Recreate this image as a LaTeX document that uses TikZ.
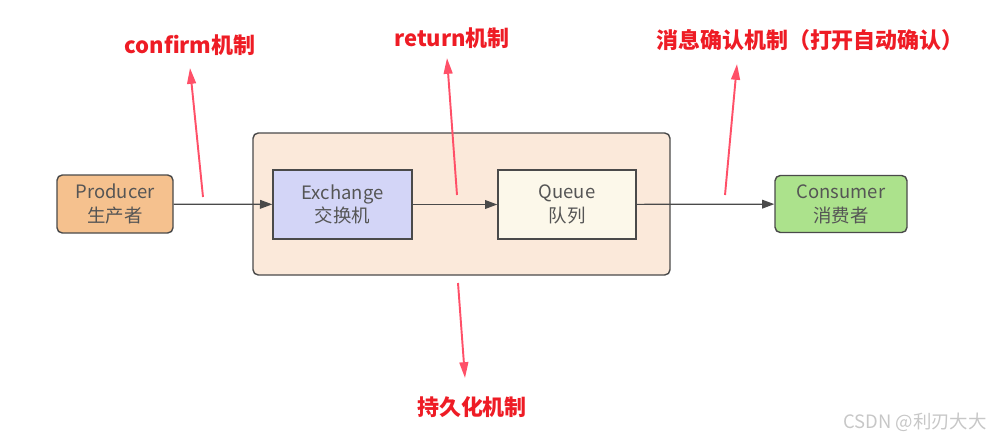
\documentclass[tikz,border=0pt]{standalone}
\usepackage{fontspec}
\setmainfont{Noto Sans CJK SC}
\usetikzlibrary{arrows.meta}
\definecolor{boxline}{HTML}{4A4A4A}
\definecolor{boxtext}{HTML}{555555}
\definecolor{prodfill}{HTML}{F5C18E}
\definecolor{brokerfill}{HTML}{FBE9DA}
\definecolor{exfill}{HTML}{D3D5F7}
\definecolor{qfill}{HTML}{FCF8EA}
\definecolor{consfill}{HTML}{ACE28C}
\definecolor{markred}{HTML}{EE1C25}
\definecolor{arrowred}{HTML}{FF5068}
\begin{document}
\begin{tikzpicture}[
  every node/.style={font=\fontsize{10.5}{13.5}\selectfont, text=boxtext, align=center},
  part/.style={draw=boxline, line width=0.8pt, inner sep=0pt},
  flow/.style={-{Triangle[length=7pt,width=5pt]}, boxline, line width=0.7pt},
  note/.style={text=markred, font=\fontsize{12.5}{14}\selectfont\bfseries},
  hint/.style={-{Triangle[length=9pt,width=5pt]}, arrowred, line width=1.1pt}]
\useasboundingbox (0,0) rectangle (19.9,-8.8);
% broker: exchange and queue inside
\node[part, rounded corners=3pt, fill=brokerfill, minimum width=8.34cm, minimum height=2.84cm] (broker) at (9.23,-4.08) {};
\node[part, fill=exfill, minimum width=2.78cm, minimum height=1.38cm] (ex) at (6.85,-4.09) {Exchange\\交换机};
\node[part, fill=qfill, minimum width=2.76cm, minimum height=1.38cm] (q) at (11.34,-4.09) {Queue\\队列};
% the two ends
\node[part, rounded corners=3pt, fill=prodfill, minimum width=2.32cm, minimum height=1.16cm] (prod) at (2.30,-4.08) {Producer\\生产者};
\node[part, rounded corners=3pt, fill=consfill, minimum width=2.64cm, minimum height=1.14cm] (cons) at (16.82,-4.08) {Consumer\\消费者};
\draw[flow] (prod) -- (ex);
\draw[flow] (ex) -- (q);
\draw[flow] (q) -- (cons);
% red notes and their pointers
\node[note] (confirm) at (3.80,-0.90) {confirm机制};
\node[note] (ret) at (9.04,-0.76) {return机制};
\node[note] (ack) at (16.20,-0.80) {消息确认机制（打开自动确认）};
\node[note] (dur) at (9.44,-8.14) {持久化机制};
\coordinate (confirmtail) at (4.06,-3.94);
\coordinate (confirmhead) at (3.80,-1.36);
\coordinate (rettail) at (9.14,-3.90);
\coordinate (rethead) at (8.94,-1.16);
\coordinate (acktail) at (14.50,-3.90);
\coordinate (ackhead) at (14.74,-1.28);
\coordinate (durtail) at (9.16,-5.66);
\coordinate (durhead) at (9.30,-7.56);
\draw[hint] (confirmtail) -- (confirmhead);
\draw[hint] (rettail) -- (rethead);
\draw[hint] (acktail) -- (ackhead);
\draw[hint] (durtail) -- (durhead);
% watermark
\node[text=black!22, font=\fontsize{10.5}{12}\selectfont] (mark) at (18.30,-8.44) {CSDN @利刃大大};
\end{tikzpicture}
\end{document}
